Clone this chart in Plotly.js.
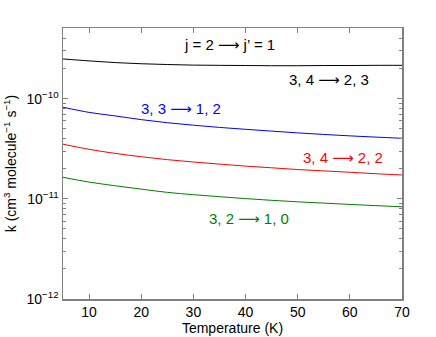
<!DOCTYPE html>
<html>
<head>
<meta charset="utf-8">
<script src="https://cdn.plot.ly/plotly-3.0.1.min.js"></script>
<style>
  body { margin: 0; background: #fff; }
  #chart { width: 436px; height: 337px; }
</style>
</head>
<body>
<div id="chart"></div>
<script>
// Температура (K)
const temperature = [5, 10, 15, 20, 25, 30, 35, 40, 45, 50, 55, 60, 65, 70];

// Константы скорости k (cm^3 molecule^-1 s^-1)
const k3423 = [2.49e-10, 2.38e-10, 2.29e-10, 2.23e-10, 2.19e-10, 2.16e-10, 2.15e-10,
               2.14e-10, 2.13e-10, 2.13e-10, 2.14e-10, 2.14e-10, 2.15e-10, 2.15e-10];
const k3312 = [8.21e-11, 7.29e-11, 6.72e-11, 6.17e-11, 5.75e-11, 5.43e-11, 5.16e-11,
               4.94e-11, 4.74e-11, 4.55e-11, 4.39e-11, 4.25e-11, 4.13e-11, 4.02e-11];
const k3422 = [3.51e-11, 3.12e-11, 2.84e-11, 2.63e-11, 2.46e-11, 2.33e-11, 2.22e-11,
               2.12e-11, 2.04e-11, 1.96e-11, 1.90e-11, 1.84e-11, 1.78e-11, 1.73e-11];
const k3210 = [1.64e-11, 1.47e-11, 1.35e-11, 1.25e-11, 1.16e-11, 1.10e-11, 1.05e-11,
               1.005e-11, 9.66e-12, 9.33e-12, 9.06e-12, 8.79e-12, 8.55e-12, 8.32e-12];

const xTicks = [10, 20, 30, 40, 50, 60, 70];
const yTicks = [1e-12, 1e-11, 1e-10];
const yTickText = ['10<sup>−12</sup>', '10<sup>−11</sup>', '10<sup>−10</sup>'];

// Малые деления логарифмической оси
const yMinor = [];
[1e-12, 1e-11, 1e-10].forEach(d => {
    for (let m = 2; m <= 9; m++) {
        if (m * d <= 5e-10) yMinor.push(m * d);
    }
});

const arrow = '<span style="font-family:DejaVu Sans">⟶</span>';

const series = [
    { y: k3423, color: '#000000', label: '3, 4 ' + arrow + ' 2, 3', ax: 0.786, ay: 0.808 },
    { y: k3312, color: '#0000ff', label: '3, 3 ' + arrow + ' 1, 2', ax: 0.349, ay: 0.700 },
    { y: k3422, color: '#ff0000', label: '3, 4 ' + arrow + ' 2, 2', ax: 0.827, ay: 0.519 },
    { y: k3210, color: '#008000', label: '3, 2 ' + arrow + ' 1, 0', ax: 0.550, ay: 0.295 }
];

const data = series.map(s => ({
    x: temperature,
    y: s.y,
    type: 'scatter',
    mode: 'lines',
    line: { color: s.color, width: 1, shape: 'spline' },
    showlegend: false,
    hoverinfo: 'skip'
}));

const annotations = series.map(s => ({
    xref: 'paper', yref: 'paper',
    x: s.ax, y: s.ay,
    xanchor: 'center', yanchor: 'middle',
    text: s.label,
    showarrow: false,
    font: { size: 15, color: s.color }
}));

annotations.push({
    xref: 'paper', yref: 'paper',
    x: 0.490, y: 0.937,
    xanchor: 'center', yanchor: 'middle',
    text: 'j = 2 ' + arrow + ' j’ = 1',
    showarrow: false,
    font: { size: 15, color: '#000000' }
});

const axisColor = '#808080';

const layout = {
    width: 436,
    height: 337,
    margin: { l: 63, r: 34, t: 28, b: 38 },
    paper_bgcolor: '#ffffff',
    plot_bgcolor: '#ffffff',
    font: { family: 'Liberation Sans, Arial, sans-serif', color: '#000000', size: 12 },
    xaxis: {
        range: [5, 70],
        tickmode: 'array',
        tickvals: xTicks,
        ticks: 'inside',
        ticklen: 5,
        tickcolor: axisColor,
        showline: true,
        linecolor: axisColor,
        linewidth: 1.5,
        mirror: 'ticks',
        showgrid: false,
        zeroline: false,
        tickfont: { size: 14 },
        title: { text: 'Temperature (K)', font: { size: 14 }, standoff: 0 }
    },
    yaxis: {
        type: 'log',
        range: [-12, -9.295],
        tickmode: 'array',
        tickvals: yTicks,
        ticktext: yTickText,
        ticks: 'inside',
        ticklen: 5,
        tickcolor: axisColor,
        showline: true,
        linecolor: axisColor,
        linewidth: 1.5,
        mirror: 'ticks',
        showgrid: false,
        zeroline: false,
        tickfont: { size: 14 },
        minor: {
            tickmode: 'array',
            tickvals: yMinor,
            ticks: 'inside',
            ticklen: 3,
            tickcolor: axisColor,
            showgrid: false
        },
        title: {
            text: 'k (cm<sup>3</sup> molecule<sup>−1</sup> s<sup>−1</sup>)',
            font: { size: 14 },
            standoff: 6
        }
    },
    annotations: annotations
};

const config = {
    displayModeBar: false,
    responsive: false,
    staticPlot: true
};

Plotly.newPlot('chart', data, layout, config);
</script>
</body>
</html>
